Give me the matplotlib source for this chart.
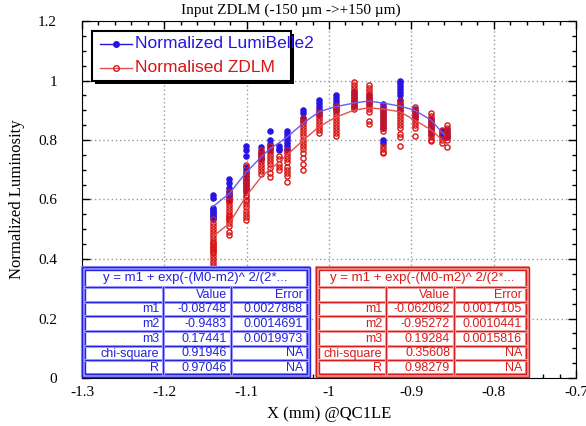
import numpy as np
import matplotlib
matplotlib.use("Agg")
import matplotlib.pyplot as plt
from matplotlib.patches import Rectangle
from matplotlib.ticker import MultipleLocator

# Données -------------------------------------------------------------------
col_x = [-1.141, -1.121, -1.101, -1.082, -1.072, -1.061, -1.051, -1.031, -1.012,
         -0.992, -0.970, -0.952, -0.934, -0.914, -0.896, -0.876, -0.863, -0.857]

lumi_y = [
    [0.615, 0.605, 0.57, 0.565, 0.56, 0.555, 0.55, 0.545, 0.54, 0.535],
    [0.67, 0.655, 0.64, 0.63, 0.62, 0.615, 0.61, 0.60],
    [0.78, 0.765, 0.745, 0.71, 0.70, 0.69, 0.68, 0.67, 0.66, 0.65, 0.64, 0.63],
    [0.775, 0.76, 0.75, 0.74, 0.735],
    [0.83, 0.80, 0.785, 0.775, 0.765],
    [0.78, 0.77, 0.765],
    [0.83, 0.82, 0.81, 0.80, 0.79, 0.78, 0.77, 0.765],
    [0.90, 0.89, 0.875, 0.865],
    [0.935, 0.925, 0.915, 0.905, 0.895, 0.885],
    [0.95, 0.94, 0.93, 0.92, 0.91, 0.90],
    [0.96, 0.95, 0.94, 0.93, 0.92, 0.91],
    [0.95, 0.94, 0.93, 0.92],
    [0.92, 0.91, 0.90, 0.89, 0.88, 0.87, 0.86, 0.85, 0.84, 0.80, 0.79],
    [1.0, 0.99, 0.98, 0.97, 0.96, 0.95, 0.935, 0.92, 0.91, 0.90],
    [0.905, 0.895, 0.885, 0.875],
    [0.87, 0.86, 0.85, 0.84, 0.83, 0.82],
    [0.83, 0.82, 0.81],
    [0.835, 0.825, 0.815, 0.81],
]

zdlm_y = [
    [0.535, 0.52, 0.51, 0.50, 0.49, 0.48, 0.47, 0.46, 0.455, 0.45, 0.445, 0.44,
     0.435, 0.43, 0.425, 0.42, 0.41, 0.40, 0.39, 0.38, 0.37],
    [0.625, 0.61, 0.60, 0.59, 0.58, 0.57, 0.56, 0.55, 0.545, 0.54, 0.535, 0.53,
     0.52, 0.51, 0.49, 0.48],
    [0.715, 0.69, 0.68, 0.665, 0.655, 0.645, 0.635, 0.625, 0.615, 0.61, 0.60,
     0.595, 0.585, 0.575, 0.56, 0.55, 0.54, 0.53],
    [0.765, 0.755, 0.745, 0.735, 0.725, 0.715, 0.705, 0.695, 0.685],
    [0.78, 0.77, 0.76, 0.75, 0.74, 0.73, 0.72, 0.705, 0.69, 0.675],
    [0.745, 0.735, 0.72, 0.71, 0.70],
    [0.765, 0.755, 0.745, 0.735, 0.725, 0.71, 0.70, 0.69, 0.68, 0.66],
    [0.875, 0.865, 0.855, 0.845, 0.835, 0.825, 0.815, 0.80, 0.79, 0.78, 0.77,
     0.755, 0.74, 0.72, 0.70],
    [0.895, 0.885, 0.875, 0.865, 0.855, 0.845, 0.835, 0.825],
    [0.915, 0.905, 0.895, 0.885, 0.875, 0.865, 0.855, 0.845, 0.835, 0.825, 0.815],
    [0.995, 0.985, 0.975, 0.965, 0.955, 0.945, 0.935, 0.925, 0.915, 0.905],
    [0.985, 0.975, 0.965, 0.955, 0.945, 0.935, 0.925, 0.915, 0.905, 0.895,
     0.865, 0.855],
    [0.91, 0.90, 0.89, 0.88, 0.87, 0.86, 0.85, 0.84, 0.83, 0.78, 0.77, 0.76, 0.755],
    [0.93, 0.92, 0.91, 0.90, 0.89, 0.88, 0.87, 0.86, 0.85, 0.84, 0.82, 0.81, 0.78],
    [0.91, 0.90, 0.89, 0.88, 0.87, 0.86, 0.85, 0.84, 0.815],
    [0.89, 0.88, 0.87, 0.86, 0.85, 0.84, 0.83, 0.82, 0.81, 0.80, 0.795],
    [0.835, 0.82, 0.80, 0.79],
    [0.85, 0.84, 0.83, 0.82, 0.81, 0.80, 0.775],
]

# courbes d'ajustement
fit_x = [-1.141, -1.121, -1.101, -1.082, -1.072, -1.061, -1.051, -1.031, -1.012,
         -0.992, -0.970, -0.952, -0.934, -0.914, -0.896, -0.876, -0.860]
fit_lumi = [0.576, 0.62, 0.69, 0.744, 0.77, 0.79, 0.81, 0.857, 0.895, 0.912,
            0.924, 0.931, 0.924, 0.914, 0.90, 0.867, 0.817]
fit_zdlm = [0.475, 0.52, 0.61, 0.677, 0.70, 0.725, 0.75, 0.80, 0.845, 0.876,
            0.90, 0.908, 0.904, 0.895, 0.867, 0.834, 0.794]

row_names = ['m1', 'm2', 'm3', 'chi-square', 'R']
lumi_val = ['-0.08748', '-0.9483', '0.17441', '0.91946', '0.97046']
lumi_err = ['0.0027868', '0.0014691', '0.0019973', 'NA', 'NA']
zdlm_val = ['-0.062062', '-0.95272', '0.19284', '0.35608', '0.98279']
zdlm_err = ['0.0017105', '0.0010441', '0.0015816', 'NA', 'NA']
eq_text = 'y = m1 + exp(-(M0-m2)^ 2/(2*...'

blue = '#2a14e0'
red = '#d81414'
serif = 'Liberation Serif'
sans = 'Liberation Sans'

# Figure ---------------------------------------------------------------------
fig = plt.figure(figsize=(5.86, 4.26), dpi=100)
ax = fig.add_axes([82/586, 48/426, 494/586, 357/426])

bx = np.concatenate([[x]*len(v) for x, v in zip(col_x, lumi_y)])
by = np.concatenate(lumi_y)
rx = np.concatenate([[x]*len(v) for x, v in zip(col_x, zdlm_y)])
ry = np.concatenate(zdlm_y)

ax.plot(bx, by, 'o', ms=3.7, color=blue, mec=blue, zorder=3)
ax.plot(rx, ry, 'o', ms=3.7, mfc='none', mec=red, mew=1, zorder=4)
ax.plot(fit_x, fit_lumi, '-', color='#6a5cf0', lw=1, zorder=5)
ax.plot(fit_x, fit_zdlm, '-', color='#e45050', lw=1, zorder=5)

ax.set_xlim(-1.3, -0.7)
ax.set_ylim(0, 1.2)
ax.xaxis.set_minor_locator(MultipleLocator(0.02))
ax.yaxis.set_minor_locator(MultipleLocator(0.05))
ax.set_xticks(np.arange(-1.3, -0.69, 0.1))
ax.set_xticklabels(['-1.3', '-1.2', '-1.1', '-1', '-0.9', '-0.8', '-0.7'])
ax.set_yticks(np.arange(0, 1.21, 0.2))
ax.set_yticklabels(['0', '0.2', '0.4', '0.6', '0.8', '1', '1.2'])
ax.tick_params(which='both', direction='in', top=True, right=True)
ax.tick_params(which='major', length=6, width=1)
ax.tick_params(which='minor', length=3, width=1)
ax.tick_params(axis='y', pad=18)
ax.tick_params(axis='x', pad=6)
for lab in ax.get_xticklabels() + ax.get_yticklabels():
    lab.set_fontfamily(serif)
    lab.set_fontsize(11)
ax.grid(True, which='major', ls=(0, (1, 2)), color='#999999', lw=1)
ax.set_axisbelow(True)

ax.set_xlabel('X (mm) @QC1LE', family=serif, fontsize=12, labelpad=5)
ax.set_ylabel('Normalized Luminosity', family=serif, fontsize=12, labelpad=9)
fig.text(0.497, 0.975, 'Input ZDLM (-150 µm ->+150 µm)', family=serif,
         fontsize=11, ha='center', va='center')

# Calque en pixels pour la légende et les tableaux -----------------------------
ov = fig.add_axes([0, 0, 1, 1], zorder=10)
ov.set_xlim(0, 586)
ov.set_ylim(426, 0)
ov.axis('off')

# légende
ov.add_patch(Rectangle((95, 34), 199, 50, fc='black', ec='none'))
ov.add_patch(Rectangle((92, 31), 199, 50, fc='white', ec='black', lw=1.5))
ov.plot([100, 132], [44, 44], '-', color=blue, lw=1)
ov.plot([116], [44], 'o', ms=4, color=blue)
ov.plot([100, 132], [68, 68], '-', color='#e45050', lw=1)
ov.plot([116], [68], 'o', ms=4, mfc='none', mec=red, mew=1)
ov.text(135, 44, 'Normalized LumiBelle2', color=blue, family=sans,
        fontsize=12.5, va='center')
ov.text(135, 68, 'Normalised ZDLM', color=red, family=sans,
        fontsize=12.5, va='center')


def tableau(x0, c1, c2, x1, dark, light, vals, errs):
    y0, yh, y1 = 268, 287, 375
    rh = (y1 - yh) / 6
    ov.add_patch(Rectangle((x0, y0), x1 - x0, y1 - y0, fc='white', ec=light, lw=3))
    ov.add_patch(Rectangle((x0 - 1.5, y0 - 1.5), x1 - x0 + 3, y1 - y0 + 3,
                           fc='none', ec=dark, lw=1))
    ov.add_patch(Rectangle((x0 + 1.5, y0 + 1.5), x1 - x0 - 3, y1 - y0 - 3,
                           fc='none', ec=dark, lw=1))
    for k in range(6):
        yy = yh + k * rh
        ov.plot([x0 + 1.5, x1 - 1.5], [yy, yy], color=light, lw=2.2)
        ov.plot([x0 + 1.5, x1 - 1.5], [yy, yy], color=dark, lw=0.7)
    for xx in (c1, c2):
        ov.plot([xx, xx], [yh, y1 - 1.5], color=light, lw=2.2)
        ov.plot([xx, xx], [yh, y1 - 1.5], color=dark, lw=0.7)
    ov.text((x0 + x1) / 2, (y0 + yh) / 2 + 0.5, eq_text, color=dark,
            family=sans, fontsize=9.5, ha='center', va='center')
    lignes = [('', 'Value', 'Error')] + list(zip(row_names, vals, errs))
    for k, (a, b, c) in enumerate(lignes):
        yy = yh + (k + 0.5) * rh + 0.5
        ov.text(c1 - 4, yy, a, color=dark, family=sans, fontsize=9, ha='right', va='center')
        ov.text(c2 - 4, yy, b, color=dark, family=sans, fontsize=9, ha='right', va='center')
        ov.text(x1 - 5, yy, c, color=dark, family=sans, fontsize=9, ha='right', va='center')


tableau(83, 163, 231, 308, '#2222e0', '#9a96ff', lumi_val, lumi_err)
tableau(317, 386, 454, 527, '#d81c1c', '#f09a9a', zdlm_val, zdlm_err)

fig.savefig('out.png', dpi=100)
